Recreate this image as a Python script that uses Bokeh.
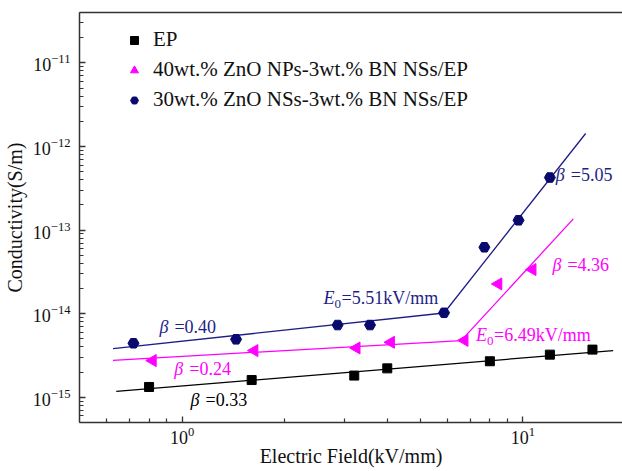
import math
from bokeh.plotting import figure
from bokeh.models import LogAxis, Label, Legend, LegendItem, Range1d, FixedTicker, LogTickFormatter
from bokeh.embed import file_html
from bokeh.resources import INLINE

# ---------------- data ----------------
ep_x = [0.80, 1.60, 3.20, 4.00, 8.00, 12.0, 16.0]
ep_y = [1.33e-15, 1.61e-15, 1.82e-15, 2.22e-15, 2.70e-15, 3.24e-15, 3.72e-15]

np_x = [0.82, 1.63, 3.25, 4.10, 6.74, 8.47, 10.67]
np_y = [2.75e-15, 3.62e-15, 3.89e-15, 4.55e-15, 4.80e-15, 2.27e-14, 3.37e-14]

ns_x = [0.72, 1.44, 2.86, 3.56, 5.87, 7.71, 9.71, 12.0]
ns_y = [4.43e-15, 4.94e-15, 7.32e-15, 7.32e-15, 1.025e-14, 6.23e-14, 1.31e-13, 4.25e-13]

# fitted lines (end points and knee points)
ep_fit_x = [0.641, 18.4]
ep_fit_y = [1.18e-15, 3.62e-15]
np_fit_x = [0.627, 6.59, 14.06]
np_fit_y = [2.77e-15, 4.77e-15, 1.36e-13]
ns_fit_x = [0.627, 5.87, 15.28]
ns_fit_y = [3.82e-15, 1.02e-14, 1.43e-12]

labels = ["EP", "40wt.% ZnO NPs-3wt.% BN NSs/EP", "30wt.% ZnO NSs-3wt.% BN NSs/EP"]

x_major = [1, 10]
x_minor = [0.6, 0.7, 0.8, 0.9, 2, 3, 4, 5, 6, 7, 8, 9]

# annotations: (x, y, symbol, subscript, rest, color)
BLUE_M = "#0a0a6e"
BLUE = "#1e1e88"
MAG = "#ff00ff"
BLACK = "#000000"
annotations = [
    (0.858, 6.88e-15, "β", "", "=0.40", BLUE),
    (0.949, 2.20e-15, "β", "", "=0.24", MAG),
    (1.059, 9.40e-16, "β", "", "=0.33", BLACK),
    (2.60, 1.54e-14, "E", "0", "=5.51kV/mm", BLUE),
    (7.29, 5.51e-15, "E", "0", "=6.49kV/mm", MAG),
    (12.49, 4.52e-13, "β", "", "=5.05", BLUE),
    (12.21, 3.87e-14, "β", "", "=4.36", MAG),
]

FONT = "Liberation Serif"

p = figure(width=622, height=471, x_axis_type="log", y_axis_type="log",
           x_range=Range1d(0.5, 19.6), y_range=Range1d(5e-16, 4e-11),
           output_backend="svg", toolbar_location=None,
           min_border_left=77, min_border_right=0, min_border_top=12, min_border_bottom=49)
p.grid.visible = False
p.outline_line_color = None
p.background_fill_color = "white"
p.border_fill_color = "white"

p.xaxis.ticker = FixedTicker(ticks=x_major, minor_ticks=x_minor)
p.xaxis.formatter = LogTickFormatter()

for ax in (p.xaxis[0], p.yaxis[0]):
    ax.axis_line_color = "#333333"
    ax.axis_line_width = 1.5
    ax.major_tick_line_color = "#333333"
    ax.minor_tick_line_color = "#333333"
    ax.major_tick_line_width = 1.3
    ax.minor_tick_line_width = 1.2
    ax.major_tick_in = 6
    ax.major_tick_out = 0
    ax.minor_tick_in = 4
    ax.minor_tick_out = 0
    ax.major_label_text_font = FONT
    ax.major_label_text_font_size = "18px"
    ax.major_label_text_color = "#111111"
    ax.axis_label_text_font = FONT
    ax.axis_label_text_font_style = "normal"
    ax.axis_label_text_font_size = "20px"
    ax.axis_label_text_color = "#111111"

p.xaxis.axis_label = "Electric Field(kV/mm)"
p.yaxis.axis_label = "Conductivity(S/m)"
p.xaxis.major_label_standoff = 4
p.xaxis.axis_label_standoff = -2
p.yaxis.major_label_standoff = 9
p.yaxis.axis_label_standoff = 4

top = LogAxis(ticker=FixedTicker(ticks=[], minor_ticks=[]),
              major_tick_line_color=None, minor_tick_line_color=None,
              axis_line_color="#333333", axis_line_width=1.5)
p.add_layout(top, "above")

# fitted lines
p.line(ep_fit_x, ep_fit_y, line_color=BLACK, line_width=1.3)
p.line(np_fit_x, np_fit_y, line_color=MAG, line_width=1.3)
p.line(ns_fit_x, ns_fit_y, line_color=BLUE, line_width=1.3)

r_ep = p.scatter(ep_x, ep_y, marker="square", size=9, fill_color=BLACK, line_color=BLACK)
r_np = p.scatter(np_x, np_y, marker="triangle", size=12, angle=math.pi / 2,
                 fill_color=MAG, line_color=MAG)
r_ns = p.scatter(ns_x, ns_y, marker="hex", size=11, fill_color=BLUE_M, line_color=BLUE_M)

legend = Legend(items=[LegendItem(label=labels[0], renderers=[r_ep]),
                       LegendItem(label=labels[1], renderers=[r_np]),
                       LegendItem(label=labels[2], renderers=[r_ns])],
                location=(41, 310), border_line_color=None, background_fill_alpha=0,
                label_text_font=FONT, label_text_font_size="21px", label_text_color="#111111",
                glyph_width=28, label_standoff=5, padding=10, spacing=5,
                label_height=20, glyph_height=20)
p.add_layout(legend)

for (x, y, sym, sub, rest, col) in annotations:
    w_sym = 11 if sym == "E" else 10
    p.add_layout(Label(x=x, y=y, text=sym, text_font=FONT, text_font_style="italic",
                       text_font_size="18px", text_color=col, text_baseline="middle"))
    if sub:
        p.add_layout(Label(x=x, y=y, x_offset=w_sym, y_offset=-6, text=sub, text_font=FONT,
                           text_font_size="13px", text_color=col, text_baseline="middle"))
        off = w_sym + 7
    else:
        off = w_sym + 5
    p.add_layout(Label(x=x, y=y, x_offset=off, text=rest, text_font=FONT,
                       text_font_size="18px", text_color=col, text_baseline="middle"))

open("out.html", "w").write(file_html(p, INLINE))
